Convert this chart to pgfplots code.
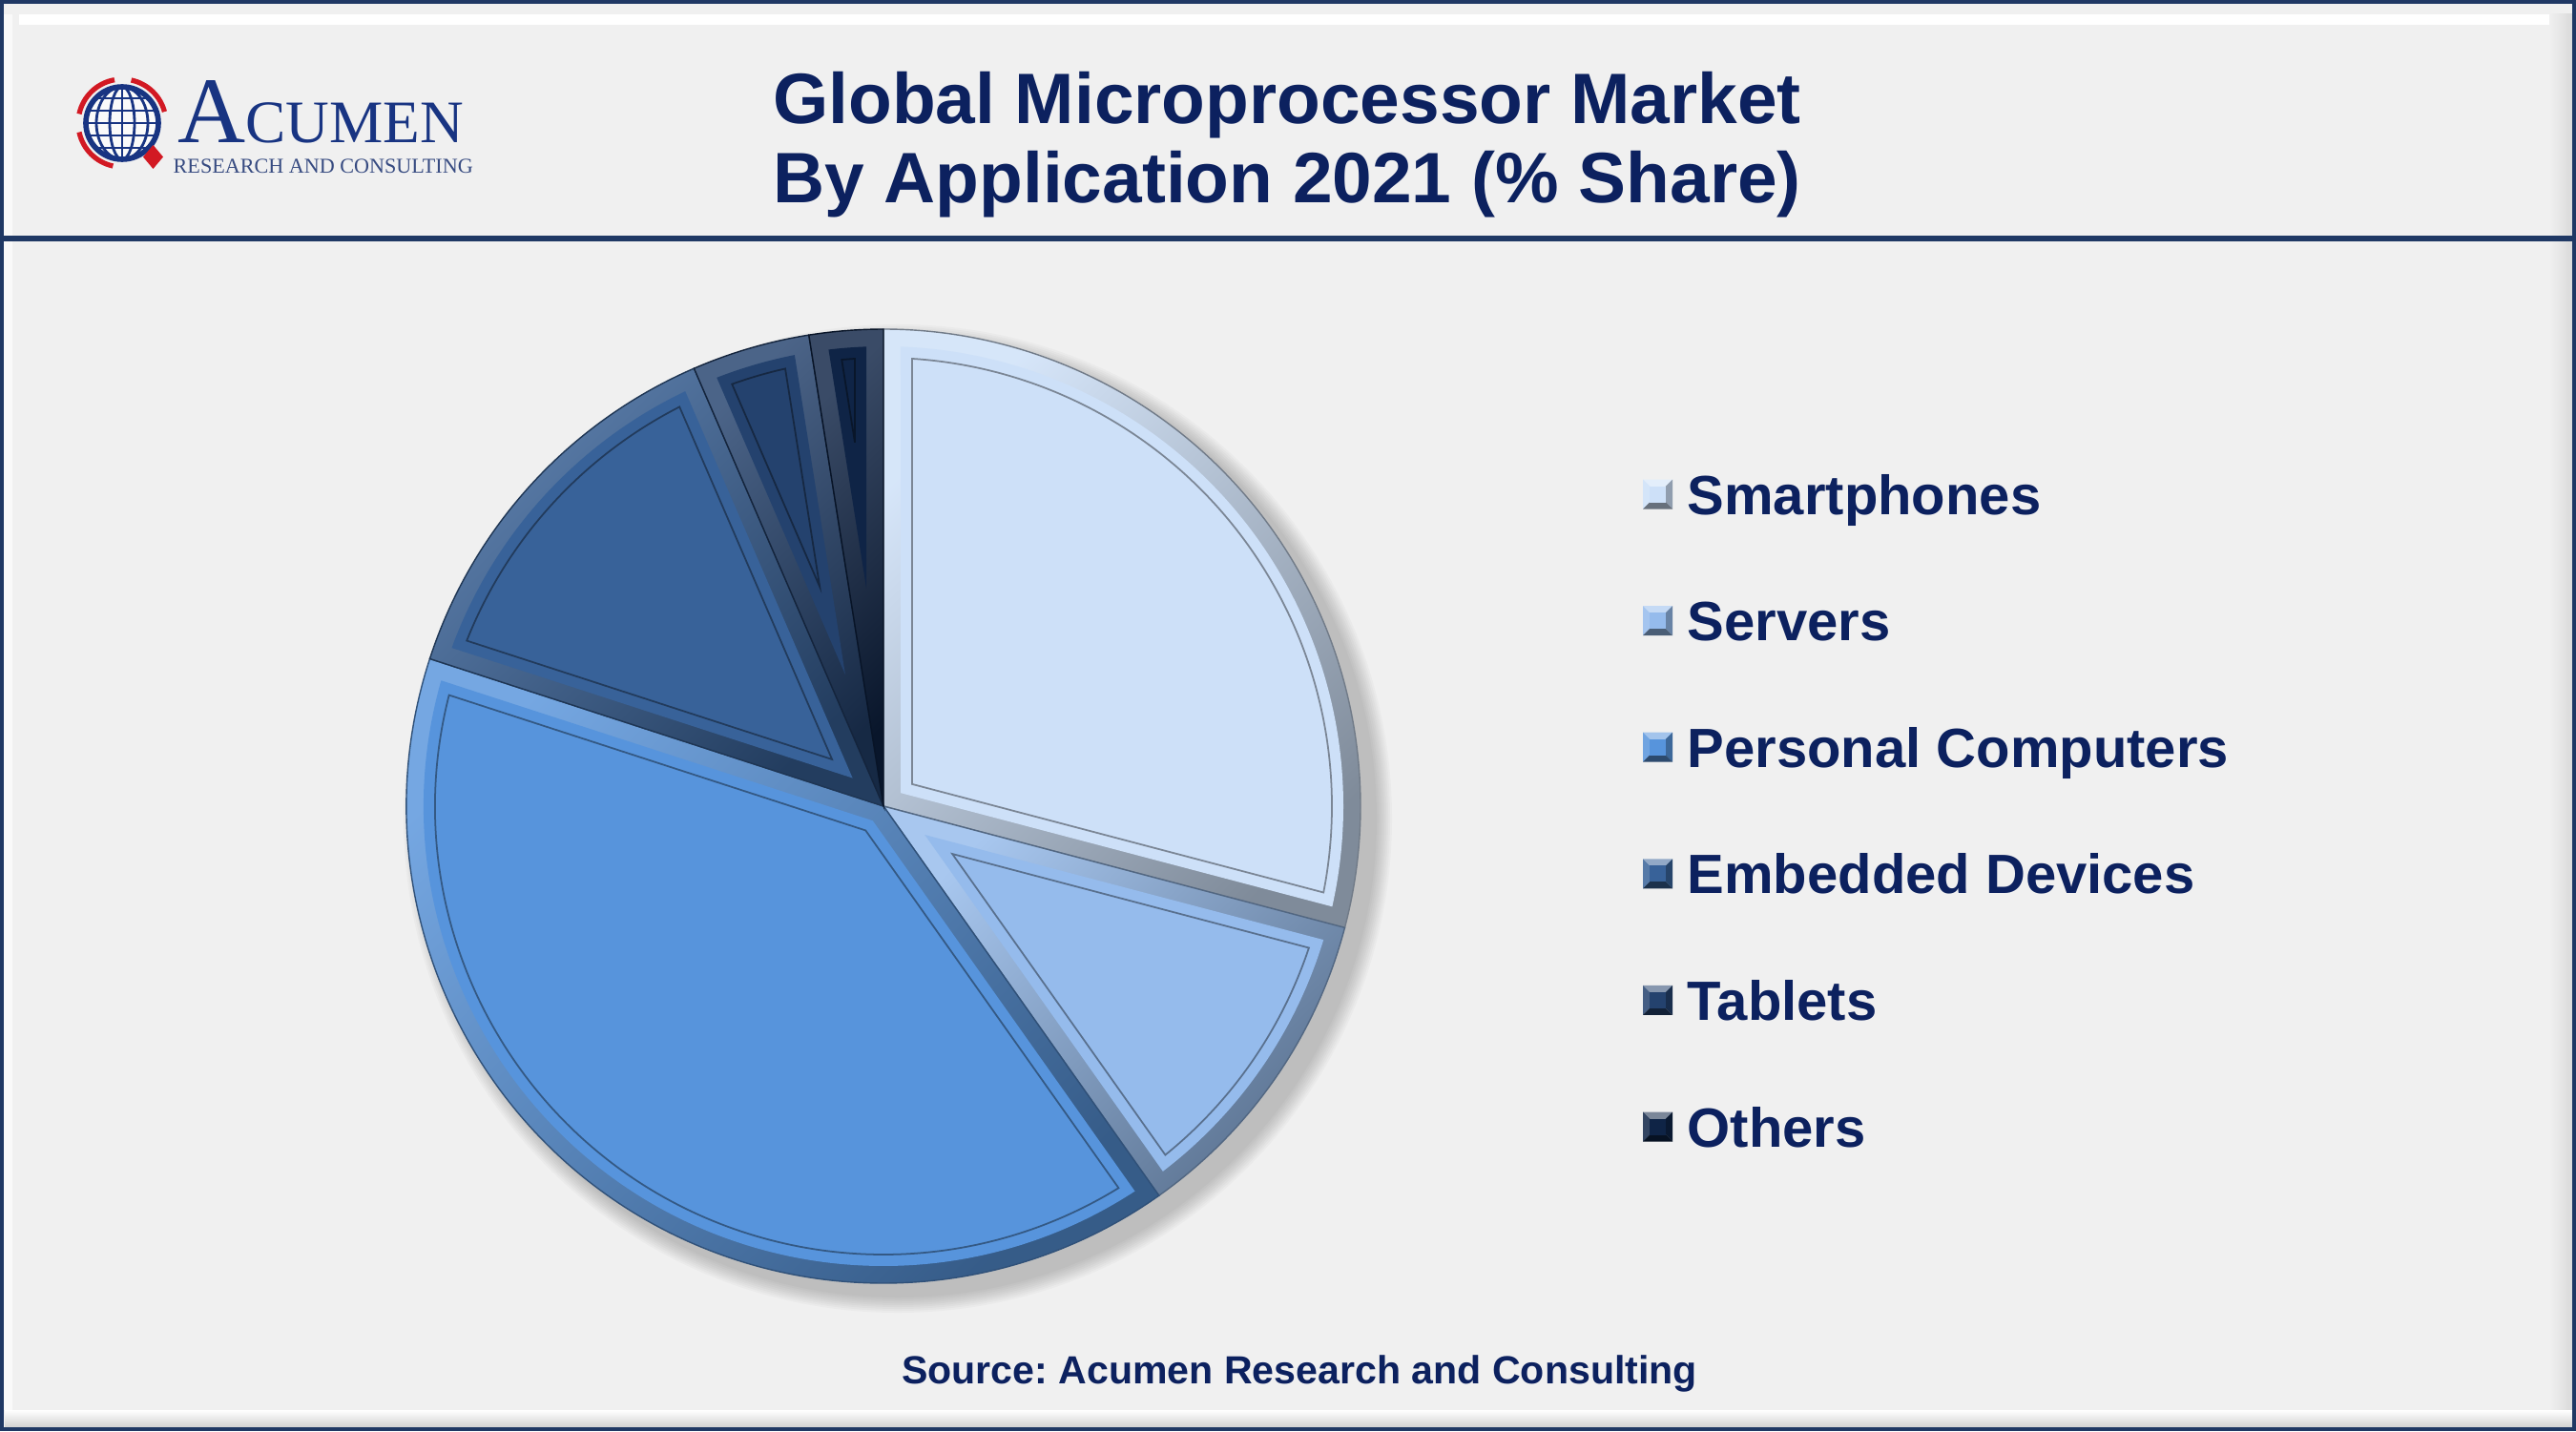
\documentclass[border=0pt]{standalone}
\usepackage{fontspec}
\setmainfont{Liberation Sans}
\newfontfamily\logofont{Liberation Serif}
\usepackage{pgfplots}
\usepackage{pgfplotstable}
\pgfplotsset{compat=1.18}
\frenchspacing

\definecolor{bg}{RGB}{240,240,240}
\definecolor{navy}{RGB}{31,56,100}
\definecolor{ink}{RGB}{12,33,95}
\definecolor{slice0}{RGB}{205,224,248}
\definecolor{slice1}{RGB}{149,187,236}
\definecolor{slice2}{RGB}{87,148,220}
\definecolor{slice3}{RGB}{56,98,153}
\definecolor{slice4}{RGB}{36,66,110}
\definecolor{slice5}{RGB}{15,36,70}
\definecolor{logoblue}{RGB}{24,52,130}
\definecolor{logored}{RGB}{210,25,35}

% market share by application, 2021 (%)
\pgfplotstableread[col sep=comma]{
label,share
Smartphones,29.1
Servers,11.1
Personal Computers,39.8
Embedded Devices,13.5
Tablets,4.0
Others,2.5
}\sharetable

% wedge between angles #1 and #2, inset by #3 (axis units, radius 1 = 5cm), path style #4
\newcommand\insetwedge[4]{%
  \pgfmathsetmacro\hh{(#2-#1)/2}%
  \pgfmathsetmacro\mm{(#2+#1)/2}%
  \pgfmathsetmacro\pp{#3/sin(\hh)}%
  \pgfmathtruncatemacro\ok{(\pp<1-#3)}%
  \ifnum\ok=1
    \pgfmathsetmacro\dd{asin(#3/(1-#3))}%
    \pgfmathsetmacro\ax{\pp*cos(\mm)}%
    \pgfmathsetmacro\ay{\pp*sin(\mm)}%
    \pgfmathsetmacro\sa{#1+\dd}%
    \pgfmathsetmacro\ea{#2-\dd}%
    \pgfmathsetmacro\qx{(1-#3)*cos(\sa)}%
    \pgfmathsetmacro\qy{(1-#3)*sin(\sa)}%
    \pgfmathsetmacro\rr{5*(1-#3)}%
    \path[#4] (axis cs:\ax,\ay) -- (axis cs:\qx,\qy)
      arc[start angle=\sa, end angle=\ea, radius=\rr cm] -- cycle;
  \fi
}

% bevelled legend key
\newcommand\legendswatch[3]{%
  \begin{scope}[shift={(#2,#3)}]
    \fill[#1!55!white] (0,0.155) -- (0.31,0.155) -- (0.155,0) -- cycle;
    \fill[#1!85!white] (0,-0.155) -- (0,0.155) -- (0.155,0) -- cycle;
    \fill[#1!70!black] (0.31,0.155) -- (0.31,-0.155) -- (0.155,0) -- cycle;
    \fill[#1!50!black] (0,-0.155) -- (0.31,-0.155) -- (0.155,0) -- cycle;
    \fill[#1] (0.07,-0.085) rectangle (0.24,0.085);
  \end{scope}}

\begin{document}
\begin{tikzpicture}[x=1cm,y=1cm]
\path[use as bounding box] (0,0) rectangle (27,15);
\fill[bg] (0,0) rectangle (27,15);

% frame bevel
\fill[white] (0.2,14.74) rectangle (26.72,14.85);
\shade[left color=bg, right color=black!15] (26.72,0.05) rectangle (26.97,14.85);
\shade[top color=white, bottom color=black!17] (0.05,0.05) rectangle (26.97,0.22);
\fill[white!60!bg] (0.03,0.22) rectangle (0.13,14.85);
\draw[navy, line width=0.045cm] (0.02,0.02) rectangle (26.98,14.98);
\draw[navy, line width=0.06cm] (0,12.5) -- (27,12.5);

% logo
\begin{scope}[shift={(1.28,13.71)}]
  \fill[white!70!bg] (0,0) circle (0.38);
  \begin{scope}
    \clip (0,0) circle (0.38);
    \draw[logoblue, line width=0.8pt] (0,0) ellipse (0.13 and 0.38);
    \draw[logoblue, line width=0.8pt] (0,0) ellipse (0.27 and 0.38);
    \draw[logoblue, line width=0.8pt] (0,-0.38) -- (0,0.38);
    \foreach \yy in {-0.26,-0.13,0,0.13,0.26}
      \draw[logoblue, line width=0.8pt] (-0.4,\yy) -- (0.4,\yy);
  \end{scope}
  \draw[logoblue, line width=1.6pt] (0,0) circle (0.38);
  \draw[logored, line width=1.5pt] (100:0.46) arc[start angle=100, end angle=168, radius=0.46];
  \draw[logored, line width=1.5pt] (192:0.46) arc[start angle=192, end angle=258, radius=0.46];
  \draw[logored, line width=1.5pt] (15:0.46) arc[start angle=15, end angle=78, radius=0.46];
  \fill[logored] (0.325,-0.23) -- (0.43,-0.355) -- (0.325,-0.48) -- (0.22,-0.355) -- cycle;
\end{scope}
\node[anchor=base west, inner sep=0, text=logoblue] at (1.86,13.50)
  {\logofont\fontsize{28}{30}\selectfont A\fontsize{18}{20}\selectfont CUMEN};
\node[anchor=base west, inner sep=0, text=logoblue!70!gray] at (1.81,13.18)
  {\logofont\fontsize{6.3}{7}\selectfont RESEARCH AND CONSULTING};

% title
\node[anchor=base, inner sep=0, text=ink] at (13.49,13.70)
  {\fontsize{21.3}{25}\selectfont\bfseries Global Microprocessor Market};
\node[anchor=base, inner sep=0, text=ink] at (13.49,12.87)
  {\fontsize{21.3}{25}\selectfont\bfseries By Application 2021 (\% Share)};

% pie
\begin{axis}[at={(9.26cm,6.55cm)}, anchor=center,
  x=5cm, y=5cm, xmin=-1.1, xmax=1.1, ymin=-1.1, ymax=1.1,
  hide axis, clip=false]
\pgfplotsextra{%
  % soft drop shadow
  \foreach \k in {1,...,9}{%
    \fill[black, opacity=0.025] (axis cs:0.03,-0.026) circle[radius={5cm+\k*0.02cm}];
  }%
  \gdef\cumangle{90}%
  \foreach \i in {0,...,5}{%
    \pgfplotstablegetelem{\i}{share}\of\sharetable
    \pgfmathsetmacro\e{\cumangle}%
    \pgfmathsetmacro\b{\cumangle-3.6*\pgfplotsretval}%
    \xdef\cumangle{\b}%
    \colorlet{base}{slice\i}%
    \pgfmathsetmacro\bx{cos(\b)}%
    \pgfmathsetmacro\by{sin(\b)}%
    % bevelled rim, lit from the upper left
    \shade[top color=base!82!white, bottom color=base!62!black, shading angle=45]
      (axis cs:0,0) -- (axis cs:\bx,\by) arc[start angle=\b, end angle=\e, radius=5cm] -- cycle;
    \draw[base!55!black, line width=0.4pt]
      (axis cs:0,0) -- (axis cs:\bx,\by) arc[start angle=\b, end angle=\e, radius=5cm] -- cycle;
    % flat face with its inner rule
    \insetwedge{\b}{\e}{0.036}{fill=base}%
    \insetwedge{\b}{\e}{0.06}{draw=base!60!black, line width=0.5pt}%
  }%
}
\end{axis}

% legend
\foreach \i in {0,...,5}{%
  \pgfplotstablegetelem{\i}{label}\of\sharetable
  \let\lbl\pgfplotsretval
  \pgfmathsetmacro\yc{15-5.18-1.326*\i}%
  \legendswatch{slice\i}{17.22}{\yc}%
  \node[anchor=base west, inner sep=0, text=ink] at (17.68,\yc-0.21)
    {\fontsize{16.5}{20}\selectfont\bfseries \lbl};
}

% source
\node[anchor=base, inner sep=0, text=ink] at (13.62,0.50)
  {\fontsize{11.7}{14}\selectfont\bfseries Source: Acumen Research and Consulting};
\end{tikzpicture}
\end{document}
